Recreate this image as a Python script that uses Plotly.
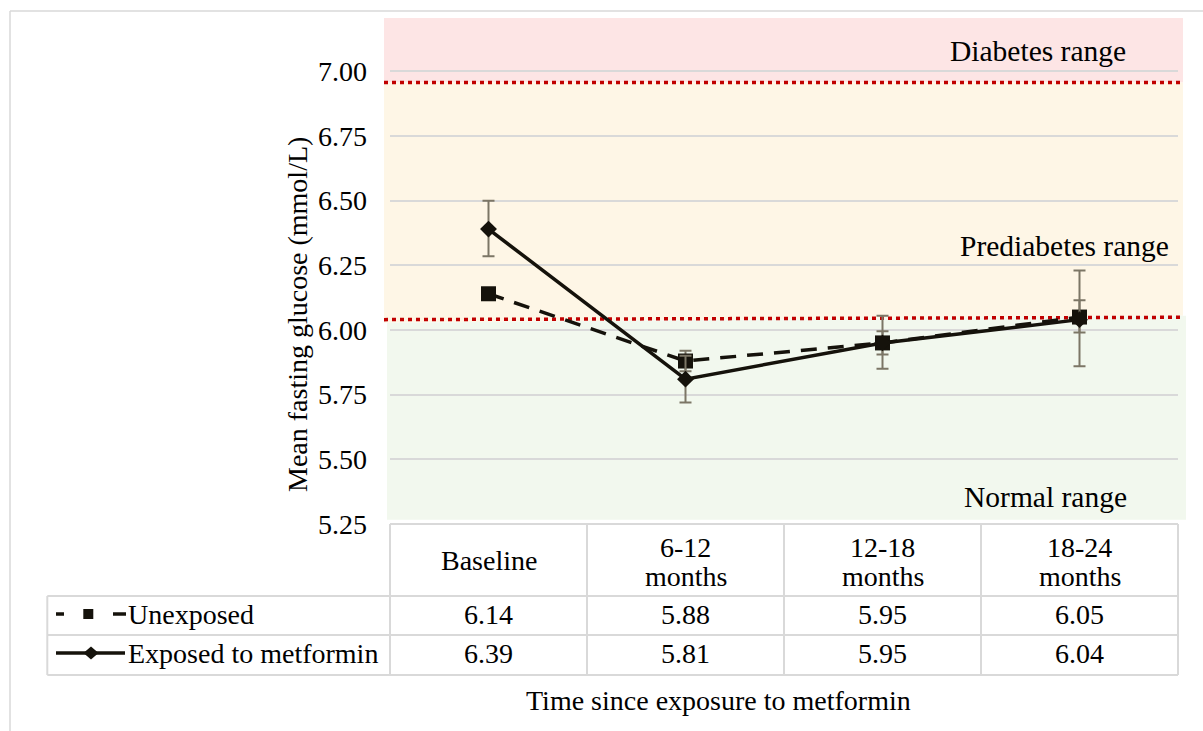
import plotly.graph_objects as go

# ---------------- data ----------------
categories = ["Baseline", "6-12 months", "12-18 months", "18-24 months"]
series_names = ["Unexposed", "Exposed to metformin"]
unexposed = [6.14, 5.88, 5.95, 6.05]
exposed = [6.39, 5.81, 5.95, 6.04]
unexposed_err_plus = [0.02, 0.04, 0.045, 0.065]
unexposed_err_minus = [0.02, 0.04, 0.045, 0.06]
exposed_err_plus = [0.11, 0.09, 0.105, 0.19]
exposed_err_minus = [0.105, 0.09, 0.10, 0.18]
y_ticks = [5.25, 5.50, 5.75, 6.00, 6.25, 6.50, 6.75, 7.00]
diabetes_line = [6.957, 6.957]        # left, right
prediabetes_line = [6.040, 6.049]     # left, right
range_labels = ["Diabetes range", "Prediabetes range", "Normal range"]
y_title = "Mean fasting glucose (mmol/L)"
x_title = "Time since exposure to metformin"

# ---------------- layout constants ----------------
W, H = 1203, 731
L, R, T, B = 390, 25, 18, 207
PW, PH = W - L - R, H - T - B
Y_RANGE = [5.25, 7.206]

FONT = "'Liberation Serif', 'Times New Roman', Tinos, serif"
FS = 28
INK = "#15120b"
GRID = "#d9d9d9"
ERR = "#7c7666"


def px(xp):
    return (xp - L) / PW


def py(yp):
    return (H - B - yp) / PH


fig = go.Figure()

fig.add_trace(go.Scatter(
    x=categories, y=unexposed, name=series_names[0], mode="lines+markers",
    line=dict(color=INK, width=3.5, dash="16px,11px"),
    marker=dict(symbol="square", size=15, color=INK),
    error_y=dict(type="data", symmetric=False, array=unexposed_err_plus,
                 arrayminus=unexposed_err_minus, color=ERR, thickness=2, width=6),
))
fig.add_trace(go.Scatter(
    x=categories, y=exposed, name=series_names[1], mode="lines+markers",
    line=dict(color=INK, width=3.5),
    marker=dict(symbol="diamond", size=13, color=INK),
    error_y=dict(type="data", symmetric=False, array=exposed_err_plus,
                 arrayminus=exposed_err_minus, color=ERR, thickness=2, width=6),
))

shapes = []
# background bands (paper x, data y)
xl, xr = px(384), px(1183)
shapes.append(dict(type="path", xref="paper", yref="y", layer="below", line=dict(width=0),
                   fillcolor="#fde5e5",
                   path=f"M{xl},{Y_RANGE[1]} L{xr},{Y_RANGE[1]} L{xr},{diabetes_line[1]} L{xl},{diabetes_line[0]} Z"))
shapes.append(dict(type="path", xref="paper", yref="y", layer="below", line=dict(width=0),
                   fillcolor="#fef6e6",
                   path=f"M{xl},{diabetes_line[0]} L{xr},{diabetes_line[1]} L{xr},{prediabetes_line[1]+0.006} L{xl},{prediabetes_line[0]-0.012} Z"))
gl, gr = px(387), px(1186)
shapes.append(dict(type="path", xref="paper", yref="y", layer="below", line=dict(width=0),
                   fillcolor="#f2f8ee",
                   path=f"M{gl},{prediabetes_line[0]-0.012} L{gr},{prediabetes_line[1]+0.006} L{gr},5.266 L{gl},5.266 Z"))
# red dotted threshold lines
for ln in (diabetes_line, prediabetes_line):
    shapes.append(dict(type="line", xref="paper", yref="y", layer="between",
                       x0=xl, x1=px(1182), y0=ln[0], y1=ln[1],
                       line=dict(color="#c00000", width=3.5, dash="4px,4px")))

# outer chart border
shapes.append(dict(type="line", xref="paper", yref="paper", x0=px(10), x1=px(1210),
                   y0=py(11), y1=py(11), line=dict(color=GRID, width=1.5)))
shapes.append(dict(type="line", xref="paper", yref="paper", x0=px(10), x1=px(10),
                   y0=py(11), y1=py(740), line=dict(color=GRID, width=1.5)))

# data table grid
tbl_top, row1, row2, row3 = 524, 596, 635, 675
tbl_left, leg_left = L, 47.3
col_w = PW / len(categories)
TL = dict(color=GRID, width=2)
shapes.append(dict(type="line", xref="paper", yref="paper", x0=px(tbl_left), x1=px(L + PW),
                   y0=py(tbl_top), y1=py(tbl_top), line=TL))
for yy in (row1, row2, row3):
    shapes.append(dict(type="line", xref="paper", yref="paper", x0=px(leg_left), x1=px(L + PW),
                       y0=py(yy), y1=py(yy), line=TL))
for i in range(len(categories) + 1):
    xx = L + i * col_w
    shapes.append(dict(type="line", xref="paper", yref="paper", x0=px(xx), x1=px(xx),
                       y0=py(tbl_top), y1=py(row3), line=TL))
shapes.append(dict(type="line", xref="paper", yref="paper", x0=px(leg_left), x1=px(leg_left),
                   y0=py(row1), y1=py(row3), line=TL))

# legend keys inside table
yk1, yk2 = 614, 653
for a, b in ((56, 64), (113, 126)):
    shapes.append(dict(type="line", xref="paper", yref="paper", x0=px(a), x1=px(b),
                       y0=py(yk1), y1=py(yk1), line=dict(color=INK, width=3.5)))
shapes.append(dict(type="rect", xref="paper", yref="paper", x0=px(83.3), x1=px(93.3),
                   y0=py(yk1 - 5), y1=py(yk1 + 5), line=dict(width=0), fillcolor=INK))
shapes.append(dict(type="line", xref="paper", yref="paper", x0=px(56), x1=px(125),
                   y0=py(yk2), y1=py(yk2), line=dict(color=INK, width=3.5)))
dx, dyp = 7.5, 6.5
shapes.append(dict(type="path", xref="paper", yref="paper", line=dict(width=0), fillcolor=INK,
                   path=(f"M{px(91 - dx)},{py(yk2)} L{px(91)},{py(yk2 - dyp)} "
                         f"L{px(91 + dx)},{py(yk2)} L{px(91)},{py(yk2 + dyp)} Z")))

annotations = []
tf = dict(family=FONT, size=FS, color="#000000")
rf = dict(family=FONT, size=29.5, color="#000000")
# table header and values
for i, cat in enumerate(categories):
    parts = cat.split(" ", 1)
    if len(parts) == 1:
        annotations.append(dict(x=cat, xref="x", y=py(560), yref="paper", text=cat,
                                showarrow=False, font=tf, xanchor="center", yanchor="middle"))
    else:
        for t, yy in zip(parts, (547, 576)):
            annotations.append(dict(x=cat, xref="x", y=py(yy), yref="paper", text=t,
                                    showarrow=False, font=tf, xanchor="center", yanchor="middle"))
    for vals, yy in ((unexposed, yk1), (exposed, yk2)):
        annotations.append(dict(x=cat, xref="x", y=py(yy), yref="paper", text=f"{vals[i]:.2f}",
                                showarrow=False, font=tf, xanchor="center", yanchor="middle"))
for name, yy in zip(series_names, (yk1, yk2)):
    annotations.append(dict(x=px(126), xref="paper", y=py(yy), yref="paper", text=name,
                            showarrow=False, font=tf, xanchor="left", yanchor="middle"))
# range labels
for text, (cx, cy) in zip(range_labels, ((1037.5, 51.5), (1064.5, 246.5), (1045.5, 497))):
    annotations.append(dict(x=px(cx), xref="paper", y=py(cy), yref="paper", text=text,
                            showarrow=False, font=rf, xanchor="center", yanchor="middle"))
# axis titles
annotations.append(dict(x=px(298), xref="paper", y=py(315), yref="paper", text=y_title,
                        textangle=-90, showarrow=False, font=tf, xanchor="center", yanchor="middle"))
annotations.append(dict(x=px(718), xref="paper", y=py(700), yref="paper", text=x_title,
                        showarrow=False, font=tf, xanchor="center", yanchor="middle"))

fig.update_layout(
    width=W, height=H,
    margin=dict(l=L, r=R, t=T, b=B, pad=0),
    paper_bgcolor="white", plot_bgcolor="rgba(0,0,0,0)",
    showlegend=False,
    font=dict(family=FONT, size=FS, color="#000000"),
    shapes=shapes, annotations=annotations,
    xaxis=dict(type="category", range=[-0.5, len(categories) - 0.5], showgrid=False,
               showticklabels=False, ticks="", zeroline=False, showline=False),
    yaxis=dict(range=Y_RANGE, tickvals=y_ticks, ticktext=[f"{v:.2f}" for v in y_ticks],
               showgrid=True, gridcolor=GRID, gridwidth=1.5, zeroline=False, showline=False,
               ticks="", ticklabelstandoff=22, tickfont=dict(family=FONT, size=FS, color="#000000")),
)

fig.write_html("out.html")
